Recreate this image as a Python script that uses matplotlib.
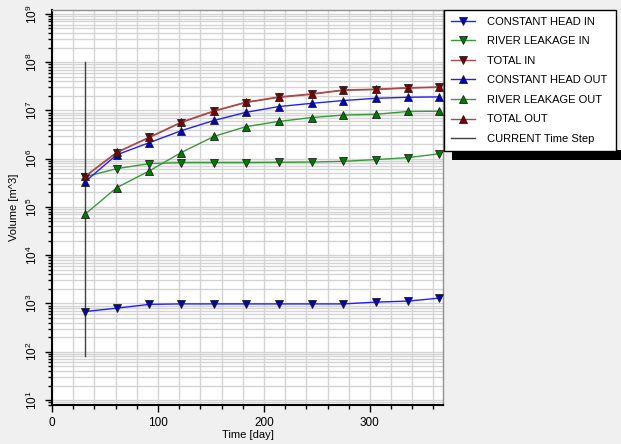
import numpy as np
import matplotlib.pyplot as plt
from matplotlib.ticker import LogLocator, LogFormatterMathtext, MultipleLocator, NullFormatter
from matplotlib.patches import Rectangle

plt.rcParams['font.family'] = ['Liberation Sans', 'DejaVu Sans']

# time steps (days)
days = [31, 61, 92, 122, 153, 183, 214, 245, 275, 306, 336, 365]

# volumes [m^3]
const_head_in = [680, 800, 960, 980, 980, 980, 980, 980, 980, 1070, 1120, 1290]
river_in = [4.2e5, 6.2e5, 7.9e5, 8.3e5, 8.3e5, 8.3e5, 8.4e5, 8.5e5, 8.8e5, 9.6e5, 1.05e6, 1.26e6]
total_in = [4.2e5, 1.33e6, 2.75e6, 5.6e6, 9.6e6, 1.45e7, 1.86e7, 2.15e7, 2.6e7, 2.7e7, 2.9e7, 3.0e7]
const_head_out = [3.3e5, 1.2e6, 2.15e6, 3.8e6, 6.2e6, 9.1e6, 1.2e7, 1.4e7, 1.6e7, 1.78e7, 1.87e7, 1.9e7]
river_out = [7e4, 2.5e5, 5.6e5, 1.34e6, 2.9e6, 4.6e6, 5.9e6, 7.1e6, 8.0e6, 8.3e6, 9.5e6, 9.6e6]
total_out = [4.3e5, 1.35e6, 2.8e6, 5.7e6, 9.8e6, 1.48e7, 1.9e7, 2.2e7, 2.65e7, 2.75e7, 2.95e7, 3.05e7]

current_step = 31
current_range = [80, 1e8]

fig = plt.figure(figsize=(6.21, 4.44), dpi=100, facecolor='#f0f0f0')
ax = fig.add_axes([52 / 621, 1 - 405 / 444, (443 - 52) / 621, (405 - 10) / 444])
ax.set_facecolor('white')

green, red = '#007a00', '#800000'
line_blue, line_green, line_red = '#2020ff', '#3a9a3a', '#b04848'
ms = 6

ax.plot(days, const_head_in, color=line_blue, lw=1, marker='v', ms=ms, mfc='#0000c0', mec='#202020', mew=0.6, label='CONSTANT HEAD IN', zorder=3)
ax.plot(days, river_in, color=line_green, lw=1, marker='v', ms=ms, mfc=green, mec='#202020', mew=0.6, label='RIVER LEAKAGE IN', zorder=3)
ax.plot(days, total_in, color=line_red, lw=1, marker='v', ms=ms, mfc=red, mec='#202020', mew=0.6, label='TOTAL IN', zorder=4)
ax.plot(days, const_head_out, color=line_blue, lw=1, marker='^', ms=ms, mfc='#0000c0', mec='#202020', mew=0.6, label='CONSTANT HEAD OUT', zorder=3)
ax.plot(days, river_out, color=line_green, lw=1, marker='^', ms=ms, mfc=green, mec='#202020', mew=0.6, label='RIVER LEAKAGE OUT', zorder=3)
ax.plot(days, total_out, color=line_red, lw=1, marker='^', ms=ms, mfc=red, mec='#202020', mew=0.6, label='TOTAL OUT', zorder=4)
ax.plot([current_step, current_step], current_range, color='#404040', lw=1, label='CURRENT Time Step', zorder=2)

ax.set_yscale('log')
ax.set_xlim(0, 369)
ax.set_ylim(7.9, 1.2e9)

ax.xaxis.set_major_locator(MultipleLocator(100))
ax.xaxis.set_minor_locator(MultipleLocator(20))
ax.yaxis.set_major_locator(LogLocator(base=10, numticks=20))
ax.yaxis.set_minor_locator(LogLocator(base=10, subs=np.arange(2, 10), numticks=20))
ax.yaxis.set_major_formatter(LogFormatterMathtext())
ax.yaxis.set_minor_formatter(NullFormatter())

ax.grid(True, which='both', color='#d4d4d4', lw=1, zorder=0)
ax.set_axisbelow(True)

ax.tick_params(axis='both', which='major', direction='out', length=5, width=1, labelsize=8.5, color='black')
ax.tick_params(axis='both', which='minor', direction='out', length=3, width=1, color='black')
for lbl in ax.get_yticklabels():
    lbl.set_rotation(90)
    lbl.set_va('center')

for side in ['top', 'right']:
    ax.spines[side].set_color('#909090')
    ax.spines[side].set_linewidth(1)
for side in ['left', 'bottom']:
    ax.spines[side].set_color('black')
    ax.spines[side].set_linewidth(1.5)

ax.set_xlabel('Time [day]', fontsize=8, labelpad=1)
ax.set_ylabel('Volume [m^3]', fontsize=8, labelpad=4)

# legend outside, with black drop shadow
fig.add_artist(Rectangle((452 / 621, 1 - 160 / 444), 175 / 621, 10 / 444,
                         transform=fig.transFigure, facecolor='black', edgecolor='none', zorder=1))
leg = fig.legend(loc='upper left', bbox_to_anchor=(444 / 621, 1 - 148 / 444, 172 / 621, 138 / 444),
                 mode='expand', fontsize=8, frameon=True, fancybox=False, framealpha=1,
                 edgecolor='black', handlelength=2.2, handletextpad=1.1, labelspacing=0.86,
                 borderpad=0.6, borderaxespad=0)
leg.get_frame().set_linewidth(1)
leg.set_zorder(2)

fig.savefig('out.png', dpi=100, facecolor=fig.get_facecolor())
